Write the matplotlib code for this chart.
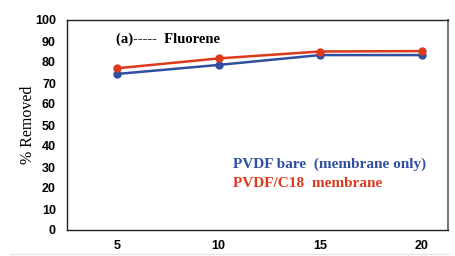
import matplotlib
matplotlib.use("Agg")
import matplotlib.pyplot as plt

x_vals = [5, 10, 15, 20]
bare = [74.3, 78.6, 83.3, 83.3]
c18 = [77.0, 81.7, 85.0, 85.2]
y_ticks = [0, 10, 20, 30, 40, 50, 60, 70, 80, 90, 100]

blue = '#2f4f9f'
red = '#dc3a1c'

fig = plt.figure(figsize=(4.55, 2.56), dpi=100)
ax = fig.add_axes([67/455, 1-230/256, (448-67)/455, (230-20)/256])

ax.plot(x_vals, bare, color=blue, lw=1.8, marker='o', ms=5)
ax.plot(x_vals, c18, color=red, lw=1.8, marker='o', ms=5)

ax.set_xlim(2.54, 21.3)
ax.set_ylim(0, 100)
ax.set_xticks(x_vals)
ax.set_yticks(y_ticks)
ax.tick_params(length=0, labelsize=9)
for lbl in ax.get_xticklabels() + ax.get_yticklabels():
    lbl.set_fontweight('bold')
    lbl.set_family('Liberation Sans')
ax.tick_params(axis='y', pad=8)
ax.tick_params(axis='x', pad=7)

for s in ['left', 'bottom', 'top']:
    ax.spines[s].set_color('#222222')
    ax.spines[s].set_linewidth(1.0)
ax.spines['right'].set_color('#777777')
ax.spines['right'].set_linewidth(1.5)

ax.set_ylabel('% Removed', family='Liberation Serif', fontsize=11.5, labelpad=-1)

ax.text(0.128, 0.89, '(a)-----  Fluorene', transform=ax.transAxes,
        family='Liberation Serif', fontweight='bold', fontsize=10.5)
ax.text(0.435, 0.296, 'PVDF bare  (membrane only)', transform=ax.transAxes,
        family='Liberation Serif', fontweight='bold', fontsize=11, color=blue)
ax.text(0.435, 0.206, 'PVDF/C18  membrane', transform=ax.transAxes,
        family='Liberation Serif', fontweight='bold', fontsize=11, color=red)

fig.add_artist(plt.Line2D([10/455, 450/455], [1-254/256, 1-254/256],
                          color='#e6e6e6', lw=1))

fig.savefig('out.png', dpi=100)
